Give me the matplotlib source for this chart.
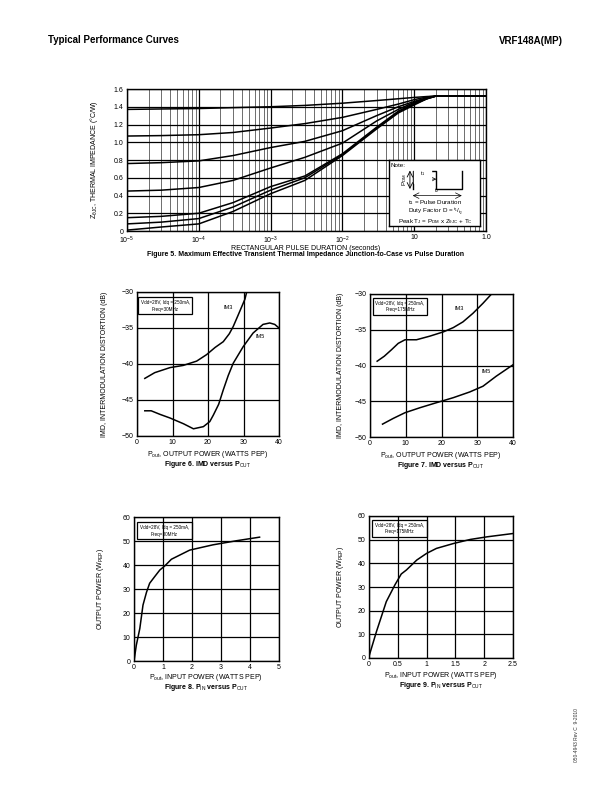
import matplotlib.pyplot as plt
import numpy as np
from matplotlib.patches import Rectangle

plt.rcParams['font.family'] = ['Liberation Sans', 'DejaVu Sans']
plt.rcParams['mathtext.fontset'] = 'custom'
plt.rcParams['mathtext.rm'] = 'Liberation Sans'
plt.rcParams['mathtext.it'] = 'Liberation Sans'

# ---- data ----
pulse_t = [1e-5, 3e-5, 1e-4, 3e-4, 1e-3, 3e-3, 1e-2, 3e-2, 0.06, 0.1, 0.15, 0.2, 1.0]
z_curves = [
    [1.37, 1.375, 1.38, 1.39, 1.40, 1.415, 1.44, 1.47, 1.49, 1.505, 1.515, 1.52, 1.52],
    [1.07, 1.075, 1.085, 1.11, 1.16, 1.21, 1.28, 1.37, 1.43, 1.48, 1.51, 1.52, 1.52],
    [0.76, 0.77, 0.79, 0.85, 0.94, 1.01, 1.13, 1.30, 1.40, 1.46, 1.50, 1.52, 1.52],
    [0.45, 0.46, 0.49, 0.57, 0.71, 0.83, 0.99, 1.24, 1.37, 1.45, 1.50, 1.52, 1.52],
    [0.15, 0.165, 0.20, 0.32, 0.50, 0.62, 0.87, 1.17, 1.35, 1.44, 1.49, 1.52, 1.52],
    [0.08, 0.10, 0.14, 0.27, 0.46, 0.60, 0.86, 1.16, 1.34, 1.43, 1.49, 1.52, 1.52],
    [0.01, 0.045, 0.08, 0.22, 0.42, 0.57, 0.85, 1.15, 1.33, 1.42, 1.49, 1.52, 1.52],
]
z_xlabels = ['10$^{-5}$', '10$^{-4}$', '10$^{-3}$', '10$^{-2}$', '10', '1.0']

f6_im3_p = [2.2, 5, 9.3, 13, 16.8, 19.6, 22, 24.3, 26, 27.1, 28.5, 30.4, 30.9]
f6_im3 = [-42.0, -41.2, -40.5, -40.2, -39.6, -38.7, -37.7, -36.9, -35.8, -34.8, -33.2, -31.0, -30.0]
f6_im5_p = [2.2, 4, 6.5, 9.3, 13.1, 15.9, 18.7, 20.5, 21.5, 23, 24.3, 25.7, 27.1, 29.9, 32.7, 35.5, 37.4, 38.8, 40]
f6_im5 = [-46.5, -46.5, -47.0, -47.5, -48.3, -49.0, -48.7, -48.0, -47.1, -45.6, -43.6, -41.6, -39.9, -37.6, -35.7, -34.5, -34.3, -34.5, -35.0]

f7_im3_p = [2.0, 4, 6.0, 7.9, 9.8, 13, 16.7, 20.5, 23.3, 26.0, 28.8, 31.6, 34, 35.8]
f7_im3 = [-39.4, -38.7, -37.8, -36.9, -36.4, -36.4, -35.9, -35.3, -34.7, -33.9, -32.7, -31.3, -30.0, -29.2]
f7_im5_p = [3.5, 6.5, 9.8, 14, 18.6, 23.3, 27.9, 31.6, 35.3, 40]
f7_im5 = [-48.2, -47.4, -46.6, -45.9, -45.2, -44.5, -43.7, -42.9, -41.5, -39.9]

f8_pin = [0, 0.08, 0.2, 0.31, 0.43, 0.54, 0.71, 0.89, 1.06, 1.29, 1.92, 2.72, 3.53, 4.33]
f8_pout = [0, 6.6, 13.5, 23.3, 28.6, 32.4, 35.1, 37.9, 39.6, 42.4, 46.2, 48.4, 50.1, 51.6]

f9_pin = [0, 0.13, 0.3, 0.45, 0.56, 0.65, 0.83, 1.0, 1.17, 1.47, 1.76, 2.05, 2.5]
f9_pout = [0.7, 11.2, 23.8, 30.9, 35.5, 37.2, 41.4, 44.2, 46.3, 48.4, 50.1, 51.2, 52.6]

W, H = 612, 792
fig = plt.figure(figsize=(W / 100, H / 100), dpi=100)


def rect(x0, y0, x1, y1):
    return [x0 / W, 1 - y1 / H, (x1 - x0) / W, (y1 - y0) / H]


def ftext(x, y, s, **kw):
    fig.text(x / W, 1 - y / H, s, **kw)


def style(ax):
    for s in ax.spines.values():
        s.set_linewidth(1.0)
    ax.tick_params(length=0, pad=2.5, labelsize=5)


fs = 5

# header
ftext(48, 40, 'Typical Performance Curves', fontsize=7, fontweight='bold', va='center')
ftext(563, 41, 'VRF148A(MP)', fontsize=7, fontweight='bold', va='center', ha='right')
ftext(576, 735, '050-4943 Rev C  9-2010', fontsize=3.5, rotation=90, va='center', ha='center', color='#333333')

# ---- Figure 5 ----
ax = fig.add_axes(rect(127, 89, 486, 231))
for c in z_curves:
    ax.plot(pulse_t, c, color='black', lw=1.1)
ax.set_xscale('log')
ax.set_xlim(1e-5, 1)
ax.set_ylim(0, 1.6)
ax.set_xticks([1e-5, 1e-4, 1e-3, 1e-2, 1e-1, 1])
ax.set_xticklabels(z_xlabels)
ax.set_xticks([m * 10.0 ** e for e in range(-5, 0) for m in range(2, 10)], minor=True)
ax.set_yticks(np.arange(0, 1.61, 0.2))
ax.set_yticklabels(['0', '0.2', '0.4', '0.6', '0.8', '1.0', '1.2', '1.4', '1.6'])
ax.grid(which='major', color='black', lw=0.9)
ax.grid(which='minor', axis='x', color='black', lw=0.4)
ax.tick_params(which='minor', length=0)
style(ax)
ftext(306, 248, 'RECTANGULAR PULSE DURATION (seconds)', fontsize=fs, ha='center', va='center')
ftext(306, 255, 'Figure 5. Maximum Effective Transient Thermal Impedance Junction-to-Case vs Pulse Duration',
      fontsize=fs, fontweight='bold', ha='center', va='center')
ftext(94, 160, 'Z$_{\\theta JC}$, THERMAL IMPEDANCE (°C/W)', fontsize=fs, rotation=90, ha='center', va='center')

# note box
nb = fig.add_axes(rect(389, 160, 480, 226))
nb.set_xlim(0, 1)
nb.set_ylim(0, 1)
nb.set_xticks([])
nb.set_yticks([])
for s in nb.spines.values():
    s.set_linewidth(1.0)
nb.text(0.02, 0.95, 'Note:', fontsize=4.5, va='top')
nb.plot([0.26, 0.26, 0.52, 0.52, 0.80, 0.80], [0.56, 0.84, 0.84, 0.56, 0.56, 0.84], color='black', lw=1.0)
nb.annotate('', xy=(0.23, 0.84), xytext=(0.23, 0.56), arrowprops=dict(arrowstyle='<->', lw=0.6, shrinkA=0, shrinkB=0))
nb.text(0.17, 0.70, 'P$_{DM}$', fontsize=4.5, rotation=90, ha='center', va='center')
nb.annotate('', xy=(0.26, 0.71), xytext=(0.52, 0.71), arrowprops=dict(arrowstyle='<->', lw=0.5, shrinkA=0, shrinkB=0))
nb.text(0.37, 0.73, 't$_1$', fontsize=4, ha='center', va='bottom', backgroundcolor='white')
nb.annotate('', xy=(0.26, 0.46), xytext=(0.80, 0.46), arrowprops=dict(arrowstyle='<->', lw=0.5, shrinkA=0, shrinkB=0))
nb.text(0.53, 0.47, 't$_2$', fontsize=4, ha='center', va='bottom')
nb.text(0.51, 0.36, 't$_1$ = Pulse Duration', fontsize=4.5, ha='center', va='center')
nb.text(0.51, 0.21, 'Duty Factor D = $^{t_1}/_{t_2}$', fontsize=4.5, ha='center', va='center')
nb.text(0.51, 0.07, 'Peak T$_J$ = P$_{DM}$ x Z$_{\\theta JC}$ + T$_C$', fontsize=4.5, ha='center', va='center')


def cond_box(ax, x0, y0, w, h, freq):
    ax.add_patch(Rectangle((x0, y0), w, h, transform=ax.transAxes, fill=False, lw=0.9, zorder=5))
    ax.text(x0 + w / 2, y0 + h * 0.68, 'Vdd=28V, Idq = 250mA,', transform=ax.transAxes,
            fontsize=3.3, ha='center', va='center', zorder=6)
    ax.text(x0 + w / 2, y0 + h * 0.3, 'Freq=' + freq, transform=ax.transAxes,
            fontsize=3.3, ha='center', va='center', zorder=6)


def small_axes(r, xlim, ylim, xt, yt):
    ax = fig.add_axes(r)
    ax.set_xlim(*xlim)
    ax.set_ylim(*ylim)
    ax.set_xticks(xt)
    ax.set_yticks(yt)
    ax.grid(color='black', lw=0.9)
    style(ax)
    return ax


def labels(xc, y_xlab, xlab, caption):
    ftext(xc, y_xlab, xlab, fontsize=fs, ha='center', va='baseline')
    ftext(xc, y_xlab + 3, caption, fontsize=fs, fontweight='bold', ha='center', va='top')


imd_ylab = 'IMD, INTERMODULATION DISTORTION (dB)'
imd_xlab = 'P$_{out}$, OUTPUT POWER (WATTS PEP)'

# ---- Figure 6 ----
ax6 = small_axes(rect(137, 292, 279, 436), (0, 40), (-50, -30), [0, 10, 20, 30, 40], [-50, -45, -40, -35, -30])
ax6.set_yticklabels(['\u221250', '\u221245', '\u221240', '\u221235', '\u221230'])
ax6.plot(f6_im3_p, f6_im3, color='black', lw=1.1)
ax6.plot(f6_im5_p, f6_im5, color='black', lw=1.1)
ax6.text(25.7, -32.2, 'IM3', fontsize=4, ha='center', va='center')
ax6.text(34.8, -36.2, 'IM5', fontsize=4, ha='center', va='center')
cond_box(ax6, 0.01, 0.845, 0.38, 0.12, '30MHz')
labels(208, 456, imd_xlab, 'Figure 6. IMD versus P$_{OUT}$')
ftext(105, 364, imd_ylab, fontsize=fs, rotation=90, ha='center', va='center')

# ---- Figure 7 ----
ax7 = small_axes(rect(370, 294, 513, 437), (0, 40), (-50, -30), [0, 10, 20, 30, 40], [-50, -45, -40, -35, -30])
ax7.set_yticklabels(['\u221250', '\u221245', '\u221240', '\u221235', '\u221230'])
ax7.plot(f7_im3_p, f7_im3, color='black', lw=1.1)
ax7.plot(f7_im5_p, f7_im5, color='black', lw=1.1)
ax7.text(25.0, -32.0, 'IM3', fontsize=4, ha='center', va='center')
ax7.text(32.6, -40.8, 'IM5', fontsize=4, ha='center', va='center')
cond_box(ax7, 0.02, 0.855, 0.38, 0.12, '175MHz')
labels(441, 457, imd_xlab, 'Figure 7. IMD versus P$_{OUT}$')
ftext(340, 365, imd_ylab, fontsize=fs, rotation=90, ha='center', va='center')

# ---- Figure 8 ----
ax8 = small_axes(rect(134, 517, 279, 661), (0, 5), (0, 60), [0, 1, 2, 3, 4, 5], [0, 10, 20, 30, 40, 50, 60])
ax8.plot(f8_pin, f8_pout, color='black', lw=1.1)
cond_box(ax8, 0.02, 0.845, 0.38, 0.12, '30MHz')
labels(206, 679, 'P$_{out}$, INPUT POWER (WATTS PEP)', 'Figure 8. P$_{IN}$ versus P$_{OUT}$')
ftext(101, 589, 'OUTPUT POWER (W$_{PEP}$)', fontsize=fs, rotation=90, ha='center', va='center')

# ---- Figure 9 ----
ax9 = small_axes(rect(369, 516, 513, 658), (0, 2.5), (0, 60), [0, 0.5, 1, 1.5, 2, 2.5], [0, 10, 20, 30, 40, 50, 60])
ax9.set_xticklabels(['0', '0.5', '1', '1.5', '2', '2.5'])
ax9.plot(f9_pin, f9_pout, color='black', lw=1.1)
cond_box(ax9, 0.02, 0.855, 0.38, 0.12, '175MHz')
labels(441, 677, 'P$_{out}$, INPUT POWER (WATTS PEP)', 'Figure 9. P$_{IN}$ versus P$_{OUT}$')
ftext(341, 587, 'OUTPUT POWER (W$_{PEP}$)', fontsize=fs, rotation=90, ha='center', va='center')

fig.savefig('out.png', dpi=100)
